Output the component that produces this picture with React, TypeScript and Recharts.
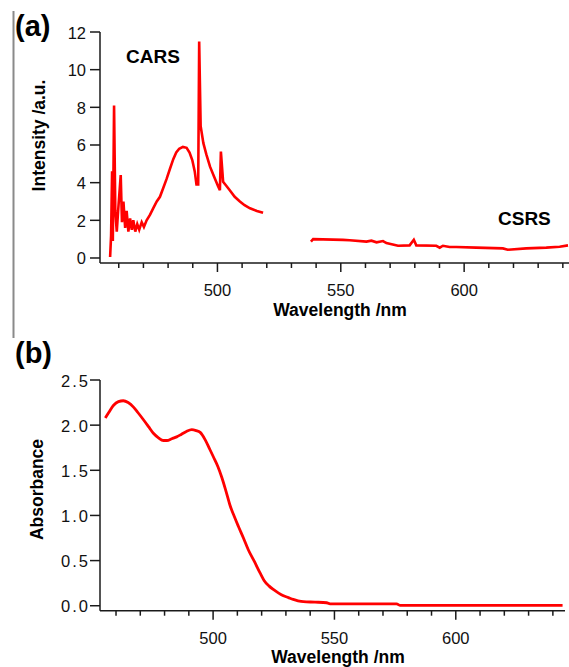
import React from 'react';
import { LineChart, Line, XAxis, YAxis } from 'recharts';

// (a) CARS segment
const carsWl = [
  456.5, 456.9, 457.3, 457.6, 458.1, 458.6, 459.2, 459.8, 460.8, 461.3, 461.9, 462.6, 463.2, 463.9,
  464.6, 465.3, 465.9, 466.7, 467.5, 468.3, 469.3, 470.2, 471.3, 472.7, 474, 475.4, 476.7, 478,
  479.4, 480.8, 482.1, 483.3, 484.5, 486, 487.5, 488.7, 489.8, 490.8, 491.5, 492.2, 492.6, 493.2,
  494.3, 495.5, 497, 498.7, 500.3, 501, 501.4, 502.3, 503.5, 505, 507, 509.1, 511, 513.2, 516, 518.5,
];
const carsInt = [
  0.05, 1.2, 4.6, 0.9, 8.1, 2.5, 1.4, 2.6, 4.4, 1.9, 3.0, 1.6, 2.5, 1.4,
  2.1, 1.5, 2.0, 1.4, 1.8, 1.5, 1.9, 1.65, 2.0, 2.3, 2.65, 3.0, 3.25, 3.7,
  4.2, 4.75, 5.25, 5.6, 5.8, 5.9, 5.85, 5.6, 5.2, 4.6, 3.9, 3.9, 11.5, 7.0,
  6.1, 5.5, 4.85, 4.3, 3.8, 3.6, 5.65, 4.05, 3.85, 3.6, 3.25, 3.0, 2.8, 2.64, 2.5, 2.4,
];

// (a) CSRS segment
const csrsWl = [
  537.9, 538.8, 550.9, 553.6, 560.4, 562.4, 564.5, 567.1, 568.5, 573.2, 577.9, 579.6, 580.6, 588.7,
  590.1, 591.4, 594.1, 596.8, 604.9, 615.7, 617.7, 625.2, 633.3, 638.7, 642.1,
];
const csrsInt = [
  0.87, 1.0, 0.96, 0.94, 0.87, 0.92, 0.83, 0.9, 0.79, 0.65, 0.67, 0.97, 0.67, 0.65,
  0.55, 0.65, 0.58, 0.58, 0.55, 0.51, 0.44, 0.51, 0.55, 0.6, 0.67,
];

// (b) absorbance
const absWl = [
  455.6, 457, 459, 461, 463, 465, 467.2, 469, 471.3, 473.5, 475.4, 477.5, 479.5, 481, 483, 485,
  487, 489, 491.2, 493, 494.7, 496.7, 498.5, 500.1, 502, 503.6, 505.3, 507, 508.7, 510.4, 512.5,
  514.5, 517, 519.4, 521, 523, 524.8, 527, 529, 531, 533, 535, 537.2, 542, 546.8, 548.2, 560,
  575.6, 577.1, 600, 620, 644,
];
const absVal = [
  2.08, 2.14, 2.22, 2.26, 2.27, 2.25, 2.2, 2.14, 2.06, 1.98, 1.91, 1.86, 1.83, 1.83, 1.85, 1.87,
  1.9, 1.93, 1.95, 1.94, 1.92, 1.84, 1.74, 1.65, 1.54, 1.42, 1.27, 1.11, 0.99, 0.88, 0.75,
  0.62, 0.49, 0.36, 0.28, 0.22, 0.18, 0.14, 0.11, 0.09, 0.07, 0.055, 0.045, 0.04, 0.033, 0.02, 0.02,
  0.02, 0.005, 0.005, 0.005, 0.005,
];

const xTicks = [460, 470, 480, 490, 500, 510, 520, 530, 540, 550, 560, 570, 580, 590, 600, 610, 620, 630, 640];
const xMajor = [500, 550, 600];
const yTicksA = [0, 2, 4, 6, 8, 10, 12];
const yTicksB = [0, 0.5, 1, 1.5, 2, 2.5];

const topData = [
  ...carsWl.map((wl, i) => ({ wl, v: carsInt[i] })),
  { wl: 528, v: null },
  ...csrsWl.map((wl, i) => ({ wl, v: csrsInt[i] })),
];
const bottomData = absWl.map((wl, i) => ({ wl, v: absVal[i] }));

const FONT = '"Liberation Sans", Arial, Helvetica, sans-serif';
const AXIS = '#1a1a1a';

const XTick = (props: any) => {
  const { x, y, payload } = props;
  const major = xMajor.includes(payload.value);
  return (
    <g>
      <line x1={x} x2={x} y1={y} y2={y + (major ? 9 : 5)} stroke={AXIS} strokeWidth={1.5} />
      {major && (
        <text x={x} y={y + 33} textAnchor="middle" fontSize={16.5} fill="#111" fontFamily={FONT}>
          {payload.value}
        </text>
      )}
    </g>
  );
};

const makeYTick = (fmt: (v: number) => string, gap: number, spacing: number) => (props: any) => {
  const { x, y, payload } = props;
  return (
    <g>
      <line x1={x - 10} x2={x} y1={y} y2={y} stroke={AXIS} strokeWidth={1.5} />
      <text
        x={x - 10 - gap}
        y={y + 6.5}
        textAnchor="end"
        fontSize={16.5}
        fill="#111"
        fontFamily={FONT}
        letterSpacing={spacing}
      >
        {fmt(payload.value)}
      </text>
    </g>
  );
};

const YTickA = makeYTick((v) => String(v), 4, 0);
const YTickB = makeYTick((v) => v.toFixed(1), 0, 2);

const App: React.FC = () => {
  return (
    <div style={{ position: 'absolute', left: 0, top: 0, width: 569, height: 667, background: '#fff', overflow: 'hidden', fontFamily: FONT }}>
      <div style={{ position: 'absolute', left: 0, top: 0 }}>
        <LineChart width={569} height={320} data={topData} margin={{ top: 32, right: 0, left: 0, bottom: 0 }}>
          <XAxis
            dataKey="wl"
            type="number"
            domain={[452.4, 642.5]}
            allowDataOverflow
            ticks={xTicks}
            interval={0}
            height={57}
            tickSize={0}
            tickMargin={0}
            tickLine={false}
            tick={<XTick />}
            axisLine={{ stroke: AXIS, strokeWidth: 1.5 }}
          />
          <YAxis
            type="number"
            domain={[-0.266, 12]}
            allowDataOverflow
            ticks={yTicksA}
            interval={0}
            width={100}
            tickSize={0}
            tickMargin={0}
            tickLine={false}
            tick={<YTickA />}
            axisLine={{ stroke: AXIS, strokeWidth: 1.5 }}
          />
          <Line
            dataKey="v"
            type="linear"
            stroke="#ff0000"
            strokeWidth={2.6}
            dot={false}
            connectNulls={false}
            isAnimationActive={false}
          />
        </LineChart>
      </div>
      <div style={{ position: 'absolute', left: 0, top: 340 }}>
        <LineChart width={569} height={327} data={bottomData} margin={{ top: 40, right: 4, left: 0, bottom: 0 }}>
          <XAxis
            dataKey="wl"
            type="number"
            domain={[453.4, 645]}
            allowDataOverflow
            ticks={xTicks}
            interval={0}
            height={56.3}
            tickSize={0}
            tickMargin={0}
            tickLine={false}
            tick={<XTick />}
            axisLine={{ stroke: AXIS, strokeWidth: 1.5 }}
          />
          <YAxis
            type="number"
            domain={[-0.055, 2.5]}
            allowDataOverflow
            ticks={yTicksB}
            interval={0}
            width={100}
            tickSize={0}
            tickMargin={0}
            tickLine={false}
            tick={<YTickB />}
            axisLine={{ stroke: AXIS, strokeWidth: 1.5 }}
          />
          <Line
            dataKey="v"
            type="monotone"
            stroke="#ff0000"
            strokeWidth={2.8}
            dot={false}
            isAnimationActive={false}
          />
        </LineChart>
      </div>
      <svg width={569} height={667} style={{ position: 'absolute', left: 0, top: 0, pointerEvents: 'none' }}>
        <line x1={13.5} x2={13.5} y1={11} y2={338} stroke="#8a8a8a" strokeWidth={2} />
        <text x={15} y={36} fontSize={29} fontWeight="bold" fill="#000" fontFamily={FONT}>(a)</text>
        <text x={15} y={363} fontSize={29} fontWeight="bold" fill="#000" fontFamily={FONT}>(b)</text>
        <text x={126} y={63} fontSize={19} fontWeight="bold" fill="#000" fontFamily={FONT}>CARS</text>
        <text x={498} y={225} fontSize={19} fontWeight="bold" fill="#000" fontFamily={FONT}>CSRS</text>
        <text x={340} y={316} textAnchor="middle" fontSize={17.5} fontWeight="bold" fill="#000" fontFamily={FONT}>
          Wavelength /nm
        </text>
        <text x={338} y={662.5} textAnchor="middle" fontSize={17.5} fontWeight="bold" fill="#000" fontFamily={FONT}>
          Wavelength /nm
        </text>
        <text
          x={45}
          y={135.5}
          transform="rotate(-90 45 135.5)"
          textAnchor="middle"
          fontSize={17.5}
          fontWeight="bold"
          fill="#000"
          fontFamily={FONT}
        >
          Intensity /a.u.
        </text>
        <text
          x={43}
          y={489.5}
          transform="rotate(-90 43 489.5)"
          textAnchor="middle"
          fontSize={17.5}
          fontWeight="bold"
          fill="#000"
          fontFamily={FONT}
        >
          Absorbance
        </text>
      </svg>
    </div>
  );
};

export default App;
